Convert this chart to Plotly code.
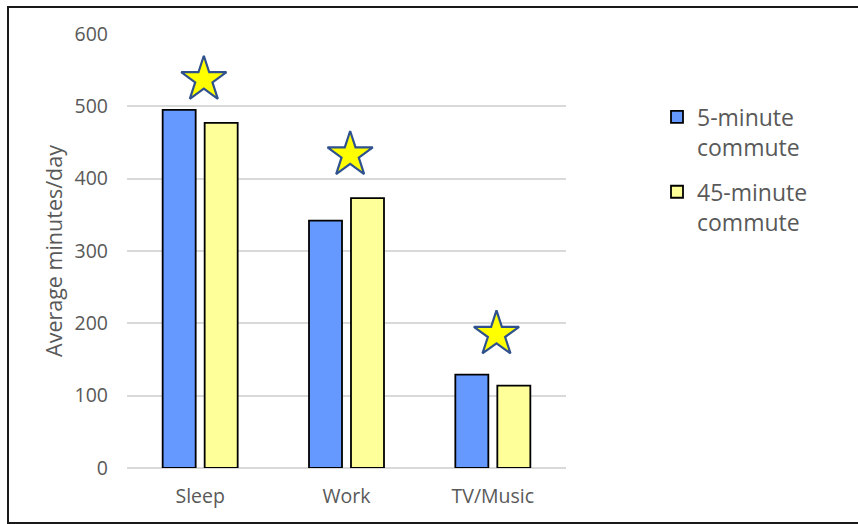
import plotly.graph_objects as go

# Average daily minutes by activity, grouped by commute length
categories = ["Sleep", "Work", "TV/Music"]
short_commute = [495, 342, 129]
long_commute = [477, 373, 114]
# Star markers flagging each activity group
star_values = [537, 433, 185]

series_names = ["5-minute<br>commute", "45-minute<br>commute"]
y_ticks = [0, 100, 200, 300, 400, 500, 600]

W, H = 858, 524
L, R, T, B = 127, 292, 34, 56
plot_w = W - L - R
plot_h = H - T - B

x_pos = list(range(len(categories)))
font_family = "Open Sans, DejaVu Sans, sans-serif"
text_gray = "#595959"

fig = go.Figure()
fig.add_trace(go.Bar(
    x=x_pos, y=short_commute, name=series_names[0], legendgroup="a",
    marker=dict(color="#6699FF", line=dict(color="#000000", width=1.8)),
))
fig.add_trace(go.Bar(
    x=x_pos, y=long_commute, name=series_names[1], legendgroup="b",
    marker=dict(color="#FFFF99", line=dict(color="#000000", width=1.8)),
))
fig.add_trace(go.Scatter(
    x=[p + 0.025 for p in x_pos], y=star_values, mode="markers",
    marker=dict(symbol="star", size=34, color="#FFFF00",
                line=dict(color="#2F528F", width=2.2)),
    showlegend=False, hoverinfo="skip",
))


def px_x(px):
    return (px - L) / plot_w


def px_y(py):
    return (H - B - py) / plot_h


# Outer frame around the chart
fig.add_shape(type="rect", xref="paper", yref="paper",
              x0=px_x(8), x1=px_x(880), y0=px_y(523), y1=px_y(7),
              line=dict(color="#1a1a1a", width=2), layer="below")

fig.update_layout(
    width=W, height=H,
    margin=dict(l=L, r=R, t=T, b=B),
    paper_bgcolor="white", plot_bgcolor="white",
    barmode="group", bargap=0.426, bargroupgap=0.214,
    font=dict(family=font_family, color=text_gray, size=19),
    legend=dict(x=px_x(657), y=px_y(95.5), xanchor="left", yanchor="top",
                font=dict(size=23, color=text_gray), valign="top",
                tracegroupgap=12, itemwidth=30),
    xaxis=dict(range=[-0.5, 2.5], tickvals=x_pos, ticktext=categories,
               showgrid=False, zeroline=False, showline=False,
               ticks="", ticklabelstandoff=14,
               tickfont=dict(size=19.5, color=text_gray)),
    yaxis=dict(range=[0, 600], tickvals=y_ticks, showgrid=True,
               gridcolor="#d9d9d9", gridwidth=1.5,
               zeroline=True, zerolinecolor="#d9d9d9", zerolinewidth=1.5,
               showline=False, ticks="", ticklabelstandoff=18,
               tickfont=dict(size=19.5, color=text_gray),
               title=dict(text="Average minutes/day", standoff=6,
                          font=dict(size=21.5, color=text_gray))),
    showlegend=True,
)

fig.write_html("out.html")
